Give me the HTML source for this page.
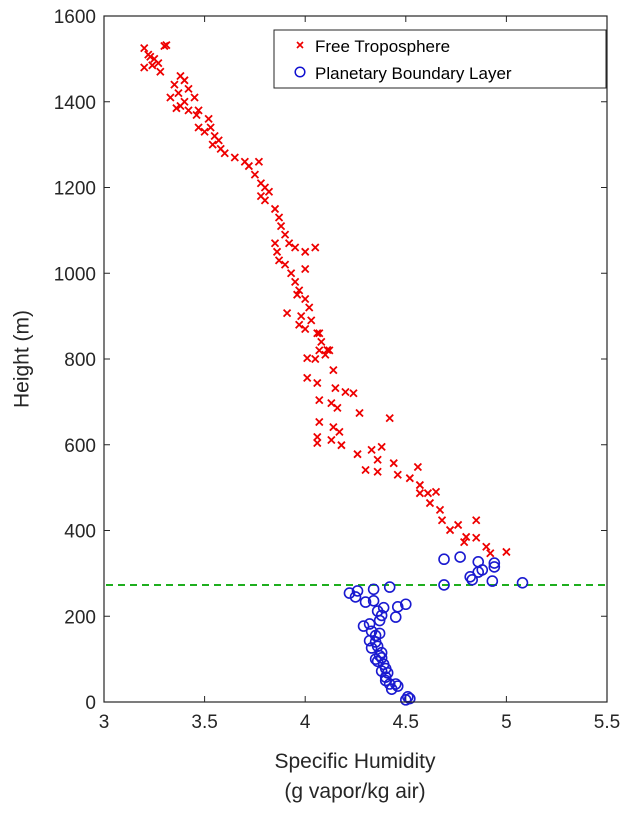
<!DOCTYPE html>
<html><head><meta charset="utf-8"><style>
html,body{margin:0;padding:0;background:#fff;}
svg{display:block;font-family:"Liberation Sans",sans-serif;}
</style></head><body>
<svg id="chart" width="632" height="813">
<rect x="0" y="0" width="632" height="813" fill="#fff"/>
<g id="ticks"></g>
<line id="pbl" stroke="#1fae1f" stroke-width="2" stroke-dasharray="7,5"/>
<g id="marks"></g>
<rect x="104" y="16" width="503" height="686" fill="none" stroke="#262626" stroke-width="1.2"/>
<text x="22" y="359" transform="rotate(-90 22 359)" text-anchor="middle" font-size="21" fill="#262626" dominant-baseline="central">Height (m)</text>
<text x="355" y="768" text-anchor="middle" font-size="21" fill="#262626">Specific Humidity</text>
<text x="355" y="798" text-anchor="middle" font-size="21" fill="#262626">(g vapor/kg air)</text>
<g>
<rect x="274" y="30" width="332" height="58" fill="#fff" stroke="#262626" stroke-width="1"/>
<g>
<path d="M297 42l6 6M303 42l-6 6" stroke="#e00" stroke-width="1.6"/>
<text x="315" y="52" font-size="17" fill="#000">Free Troposphere</text></g>
<g>
<circle cx="300" cy="72" r="4.8" fill="none" stroke="#1010d0" stroke-width="1.5"/>
<text x="315" y="79" font-size="17" fill="#000">Planetary Boundary Layer</text></g>
</g>
</svg>
<script>
const xTicks=[3,3.5,4,4.5,5,5.5];
const yTicks=[0,200,400,600,800,1000,1200,1400,1600];
const pblHeight=273;
const ftHum=[3.2,3.22,3.25,3.2,3.27,3.3,3.31,3.28,3.24,3.23,3.35,3.38,3.4,3.42,3.37,3.45,3.33,3.4,3.38,3.42,3.36,3.47,3.52,3.53,3.55,3.5,3.54,3.57,3.58,3.6,3.47,3.46,3.65,3.7,3.72,3.77,3.75,3.78,3.8,3.82,3.78,3.8,3.85,3.87,3.88,3.9,3.92,3.85,3.86,3.95,3.87,3.9,3.93,3.95,4.0,4.05,4.0,3.97,3.96,4.0,4.02,3.98,4.03,3.97,4.0,4.06,4.08,4.07,4.1,4.12,4.05,3.91,4.07,4.11,4.01,4.14,4.01,4.06,4.15,4.2,4.24,4.07,4.13,4.16,4.27,4.42,4.07,4.14,4.17,4.06,4.06,4.13,4.18,4.26,4.33,4.38,4.36,4.3,4.36,4.44,4.56,4.46,4.52,4.57,4.61,4.65,4.62,4.67,4.68,4.72,4.76,4.8,4.85,4.85,4.9,4.92,5.0,4.79,4.57];
const ftHeight=[1525,1510,1500,1480,1490,1530,1532,1470,1485,1505,1440,1460,1450,1430,1420,1410,1410,1400,1390,1380,1385,1380,1360,1340,1320,1330,1300,1310,1290,1280,1340,1369,1270,1260,1250,1260,1230,1210,1200,1190,1180,1170,1150,1130,1110,1090,1070,1070,1050,1060,1030,1020,1000,980,1050,1060,1010,960,950,940,920,900,890,880,870,860,840,820,810,820,800,907,860,821,802,774,756,744,732,723,720,704,697,686,674,662,653,641,630,618,604,611,599,578,588,595,565,541,537,557,548,530,522,506,487,490,464,448,424,401,413,385,424,383,362,347,350,373,487];
const pblHum=[4.69,4.77,4.86,4.94,4.94,4.88,4.86,4.82,4.83,4.93,5.08,4.69,4.22,4.26,4.25,4.34,4.42,4.3,4.34,4.36,4.39,4.46,4.5,4.38,4.45,4.37,4.29,4.32,4.33,4.35,4.37,4.32,4.35,4.33,4.36,4.38,4.37,4.35,4.36,4.38,4.39,4.4,4.38,4.41,4.4,4.4,4.42,4.45,4.43,4.46,4.51,4.5,4.52];
const pblHeights=[333,338,327,324,315,308,303,292,285,282,278,273,254,259,245,263,268,233,236,212,220,222,228,202,198,190,177,182,165,155,160,143,140,126,130,115,108,100,95,103,88,78,72,68,58,50,42,42,30,37,12,5,8];
const NS='http://www.w3.org/2000/svg';
const X0=104,X1=607,Y0=702,Y1=16;
function sx(v){return X0+(v-3)/2.5*(X1-X0);}
function sy(v){return Y0-v/1600*(Y0-Y1);}
function mk(t,a){const e=document.createElementNS(NS,t);for(const k in a)e.setAttribute(k,a[k]);return e;}
const tg=document.getElementById('ticks'),mg=document.getElementById('marks');
xTicks.forEach(v=>{const x=sx(v);
 const l=mk('path',{d:`M${x} ${Y0}v-6M${x} ${Y1}v6`,stroke:'#262626','stroke-width':1});
 
 
 tg.appendChild(l);
 const t=mk('text',{x:x,y:Y0+26,'text-anchor':'middle','font-size':19,fill:'#262626'});
 t.textContent=String(v);
 
 
 tg.appendChild(t);});
yTicks.forEach(v=>{const y=sy(v);
 const l=mk('path',{d:`M${X0} ${y}h6M${X1} ${y}h-6`,stroke:'#262626','stroke-width':1});
 
 
 tg.appendChild(l);
 const t=mk('text',{x:X0-8,y:y+7,'text-anchor':'end','font-size':19,fill:'#262626'});
 t.textContent=String(v);
 
 
 tg.appendChild(t);});
const pl=document.getElementById('pbl');
pl.setAttribute('x1',X0+2);pl.setAttribute('x2',X1-2);pl.setAttribute('y1',sy(pblHeight));pl.setAttribute('y2',sy(pblHeight));
ftHum.forEach((v,i)=>{const x=sx(v),y=sy(ftHeight[i]);
 const p=mk('path',{d:`M${x-3.5} ${y-3.5}l7 7M${x+3.5} ${y-3.5}l-7 7`,stroke:'#ee0000','stroke-width':1.8});
 
 
 mg.appendChild(p);});
pblHum.forEach((v,i)=>{
 const c=mk('circle',{cx:sx(v),cy:sy(pblHeights[i]),r:5,fill:'none',stroke:'#1a1ad0','stroke-width':1.6});
 
 
 mg.appendChild(c);});
</script>
</body></html>
